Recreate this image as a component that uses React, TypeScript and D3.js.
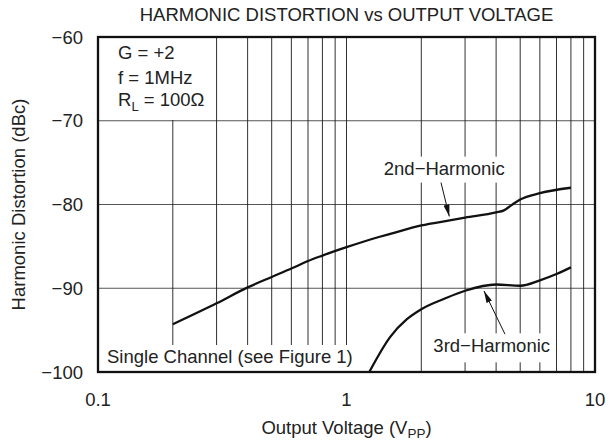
import React, { useEffect, useRef } from 'react';
import * as d3 from 'd3';

// values
const voltage2nd = [0.2, 0.3, 0.4, 0.5, 0.6, 0.7, 0.8, 1, 1.36, 1.5, 2, 2.6, 3, 4, 4.3, 4.6, 5, 6, 8];
const harmonic2nd = [-94.3, -91.8, -89.9, -88.65, -87.65, -86.75, -86.1, -85.1, -83.85, -83.5, -82.5, -81.9, -81.57, -80.95, -80.7, -80.1, -79.4, -78.65, -78.0];

const voltage3rd = [1.235, 1.5, 1.75, 2, 2.5, 3, 4, 5, 6, 7, 8];
const harmonic3rd = [-100, -95.8, -93.7, -92.5, -91.2, -90.3, -89.55, -89.7, -89.05, -88.3, -87.5];

const yTicks = [-60, -70, -80, -90, -100];
const yGrid = [-70, -80, -90];
const xTicks = [0.1, 1, 10];
const xTickLabels = ['0.1', '1', '10'];
const xGrid = [0.2, 0.3, 0.4, 0.5, 0.6, 0.7, 0.8, 0.9, 1, 2, 3, 4, 5, 6, 7, 8, 9];

const W = 616;
const H = 445;
const margin = { top: 37, right: 21, bottom: 73, left: 98 };
const FONT = '"Liberation Sans", Arial, Helvetica, sans-serif';
const FS = 18.5;

const App = () => {
  const ref = useRef<SVGSVGElement>(null);

  useEffect(() => {
    const svg = d3.select(ref.current);
    svg.selectAll('*').remove();

    const innerW = W - margin.left - margin.right;
    const innerH = H - margin.top - margin.bottom;

    const x = d3.scaleLog().domain([0.1, 10]).range([0, innerW]);
    const y = d3.scaleLinear().domain([-100, -60]).range([innerH, 0]);

    const defs = svg.append('defs');
    defs.append('marker')
      .attr('id', 'arrowhead')
      .attr('viewBox', '0 0 12 6')
      .attr('refX', 12)
      .attr('refY', 3)
      .attr('markerWidth', 12)
      .attr('markerHeight', 6)
      .attr('markerUnits', 'userSpaceOnUse')
      .attr('orient', 'auto')
      .append('path')
        .attr('d', 'M0,0 L12,3 L0,6 Z')
        .attr('fill', '#111');

    const g = svg.append('g')
      .attr('transform', `translate(${margin.left},${margin.top})`);

    // gridlines
    g.selectAll('.hgrid')
      .data(yGrid)
      .enter()
      .append('line')
        .attr('x1', 0)
        .attr('x2', innerW)
        .attr('y1', d => y(d))
        .attr('y2', d => y(d))
        .attr('stroke', '#555')
        .attr('stroke-width', 1.1);

    g.selectAll('.vgrid')
      .data(xGrid)
      .enter()
      .append('line')
        .attr('x1', d => x(d))
        .attr('x2', d => x(d))
        .attr('y1', 0)
        .attr('y2', innerH)
        .attr('stroke', '#1a1a1a')
        .attr('stroke-width', 0.9);

    // text with white background boxes
    const boxed = (sel: d3.Selection<SVGTextElement, unknown, null, undefined>, pad = { l: 3, r: 3, t: 2, b: 5 }) => {
      const bb = (sel.node() as SVGTextElement).getBBox();
      g.insert('rect', () => sel.node())
        .attr('x', bb.x - pad.l)
        .attr('y', bb.y - pad.t)
        .attr('width', bb.width + pad.l + pad.r)
        .attr('height', bb.height + pad.t + pad.b)
        .attr('fill', '#fff');
    };

    // condition block (top left)
    const condBox = g.append('rect').attr('fill', '#fff');
    const cond = g.append('g').attr('font-family', FONT).attr('font-size', FS).attr('fill', '#222');
    cond.append('text').attr('x', 20).attr('y', 22).text('G = +2');
    cond.append('text').attr('x', 20).attr('y', 47).text('f = 1MHz');
    const rl = cond.append('text').attr('x', 20).attr('y', 69);
    rl.append('tspan').text('R');
    rl.append('tspan').attr('font-size', 13).attr('dy', 5).text('L');
    rl.append('tspan').attr('dy', -5).text(' = 100\u03A9');
    const cb = (cond.node() as SVGGElement).getBBox();
    condBox.attr('x', 0).attr('y', 0).attr('width', cb.x + cb.width + 4).attr('height', cb.y + cb.height + 6);

    const single = g.append('text')
      .attr('x', 9)
      .attr('y', 326)
      .attr('font-family', FONT)
      .attr('font-size', FS)
      .attr('fill', '#222')
      .text('Single Channel (see Figure 1)');
    boxed(single, { l: 9, r: 3, t: 1, b: 10 });

    const lab2 = g.append('text')
      .attr('x', x(2.473))
      .attr('y', y(-76.43))
      .attr('text-anchor', 'middle')
      .attr('font-family', FONT)
      .attr('font-size', FS)
      .attr('fill', '#222')
      .text('2nd\u2212Harmonic');
    boxed(lab2, { l: 3, r: 3, t: 1, b: 4 });

    const lab3 = g.append('text')
      .attr('x', x(3.84))
      .attr('y', y(-97.65))
      .attr('text-anchor', 'middle')
      .attr('font-family', FONT)
      .attr('font-size', FS)
      .attr('fill', '#222')
      .text('3rd\u2212Harmonic');
    boxed(lab3, { l: 3, r: 3, t: 2, b: 6 });

    // curves
    const line = d3.line<[number, number]>()
      .x(d => x(d[0]))
      .y(d => y(d[1]))
      .curve(d3.curveMonotoneX);

    g.append('path')
      .datum(voltage2nd.map((v, i) => [v, harmonic2nd[i]] as [number, number]))
      .attr('d', line)
      .attr('fill', 'none')
      .attr('stroke', '#111')
      .attr('stroke-width', 2.3);

    g.append('path')
      .datum(voltage3rd.map((v, i) => [v, harmonic3rd[i]] as [number, number]))
      .attr('d', line)
      .attr('fill', 'none')
      .attr('stroke', '#111')
      .attr('stroke-width', 2.3);

    // arrows
    const arrows = [
      [[2.40, -77.38], [2.593, -81.43]],
      [[4.343, -95.48], [3.575, -90.32]],
    ];
    g.selectAll('.arrow')
      .data(arrows)
      .enter()
      .append('line')
        .attr('x1', d => x(d[0][0]))
        .attr('y1', d => y(d[0][1]))
        .attr('x2', d => x(d[1][0]))
        .attr('y2', d => y(d[1][1]))
        .attr('stroke', '#111')
        .attr('stroke-width', 1)
        .attr('marker-end', 'url(#arrowhead)');

    // frame
    g.append('rect')
      .attr('x', 0)
      .attr('y', 0)
      .attr('width', innerW)
      .attr('height', innerH)
      .attr('fill', 'none')
      .attr('stroke', '#111')
      .attr('stroke-width', 2.3);

    // tick labels
    g.selectAll('.ytick')
      .data(yTicks)
      .enter()
      .append('text')
        .attr('x', -15)
        .attr('y', d => y(d) + 6.6)
        .attr('text-anchor', 'end')
        .attr('font-family', FONT)
        .attr('font-size', FS)
        .attr('fill', '#222')
        .text(d => `\u2212${Math.abs(d)}`);

    g.selectAll('.xtick')
      .data(xTicks)
      .enter()
      .append('text')
        .attr('x', d => x(d))
        .attr('y', innerH + 34)
        .attr('text-anchor', 'middle')
        .attr('font-family', FONT)
        .attr('font-size', FS)
        .attr('fill', '#222')
        .text((_, i) => xTickLabels[i]);

    // axis titles
    const xl = g.append('text')
      .attr('x', innerW / 2)
      .attr('y', innerH + 62)
      .attr('text-anchor', 'middle')
      .attr('font-family', FONT)
      .attr('font-size', FS)
      .attr('fill', '#222');
    xl.append('tspan').text('Output Voltage (V');
    xl.append('tspan').attr('font-size', 13.5).attr('dy', 4).text('PP');
    xl.append('tspan').attr('dy', -4).text(')');

    svg.append('text')
      .attr('transform', `translate(25,${margin.top + innerH / 2}) rotate(-90)`)
      .attr('text-anchor', 'middle')
      .attr('font-family', FONT)
      .attr('font-size', FS)
      .attr('fill', '#222')
      .text('Harmonic Distortion (dBc)');

    svg.append('text')
      .attr('x', margin.left + innerW / 2)
      .attr('y', 20.7)
      .attr('text-anchor', 'middle')
      .attr('font-family', FONT)
      .attr('font-size', FS)
      .attr('fill', '#222')
      .text('HARMONIC DISTORTION vs OUTPUT VOLTAGE');
  }, []);

  return (
    <svg
      ref={ref}
      width={W}
      height={H}
      style={{ position: 'absolute', left: 0, top: 0, background: '#fff' }}
    />
  );
};

export default App;
